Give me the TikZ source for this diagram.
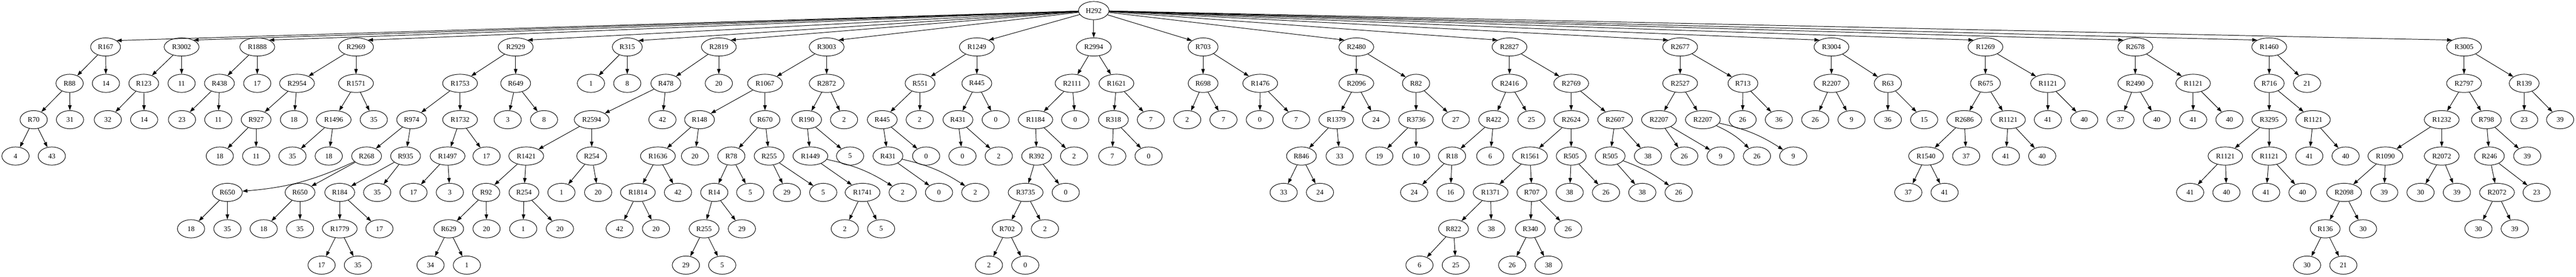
\documentclass[tikz,border=0pt]{standalone}
\usepackage{fontspec}
\setmainfont{Liberation Serif}
\usetikzlibrary{shapes.geometric,arrows.meta}
\tikzset{vtx/.style={draw,ellipse,inner xsep=5.75pt,inner ysep=3pt,
    minimum width=54pt,minimum height=36pt,font=\fontsize{14}{16}\selectfont},
  bent e1111/.style={bend left=10},
  bent h2112/.style={bend left=10},
  bent i1112/.style={bend left=10},
  bent m2212/.style={bend left=8},
  bent n121/.style={bend left=10},
  bent n122/.style={bend left=10}}

\begin{document}
\begin{tikzpicture}[x=0.75pt,y=-72pt,line width=1pt,>={Triangle[length=10pt,width=7pt]}]
\useasboundingbox (0,-0.2917) rectangle (6809,7.3229);
\foreach \nm/\px/\lv/\lab in {root/2891/0/H292,
    a/279/1/R167, a1/184/2/R88, a2/280/2/14, a11/89/3/R70, a12/185/3/31, a111/41/4/4, a112/137/4/43,
    b/480/1/R3002, b1/380/2/R123, b2/480/2/11, b11/285/3/32, b12/381/3/14,
    c/680/1/R1888, c1/580/2/R438, c2/680/2/17, c11/481/3/23, c12/577/3/11,
    d/941/1/R2969, d1/785/2/R2954, d2/941/2/R1571, d11/677/3/R927, d12/777/3/18, d111/581/4/18,
    d112/677/4/11, d21/882/3/R1496, d22/988/3/35, d211/773/4/35, d212/869/4/18,
    e/1363/1/R2929, e1/1216/2/R1753, e2/1363/2/R649, e11/1088/3/R974, e12/1216/3/R1732,
    e111/969/4/R268, e112/1072/4/R935, e1111/601/5/R650, e1112/793/5/R650, e11111/505/6/18,
    e11112/601/6/35, e11121/697/6/18, e11122/793/6/35, e1121/898/5/R184, e1122/997/5/35,
    e11211/898/6/R1779, e11212/1003/6/17, e112111/850/7/17, e112112/946/7/35,
    e121/1183/4/R1497, e122/1286/4/17, e1211/1093/5/17, e1212/1189/5/3, e21/1342/3/3, e22/1438/3/8,
    f/1658/1/R315, f1/1562/2/1, f2/1658/2/8,
    g/1900/1/R2819, g1/1760/2/R478, g2/1900/2/20, g11/1564/3/R2594, g12/1751/3/42,
    g111/1391/4/R1421, g112/1564/4/R254, g1111/1285/5/R92, g1112/1385/5/R254,
    g11111/1186/6/R629, g11112/1286/6/20, g111111/1138/7/34, g111112/1234/7/1,
    g11121/1383/6/1, g11122/1480/6/20, g1121/1484/5/1, g1122/1581/5/20,
    h/2185/1/R3003, h1/2022/2/R1067, h2/2185/2/R2872, h11/1849/3/R148, h12/2022/3/R670,
    h111/1739/4/R1636, h112/1837/4/20, h1111/1686/5/R1814, h1112/1792/5/42,
    h11111/1638/6/42, h11112/1734/6/20, h121/1933/4/R78, h122/2033/4/R255,
    h1211/1888/5/R14, h1212/1983/5/5, h12111/1861/6/R255, h12112/1961/6/29,
    h121111/1813/7/29, h121112/1909/7/5, h1221/2080/5/29, h1222/2176/5/5,
    h21/2132/3/R190, h22/2231/3/2, h211/2142/4/R1449, h212/2247/4/5,
    h2111/2280/5/R1741, h2112/2386/5/2, h21111/2233/6/2, h21112/2329/6/5,
    i/2582/1/R1249, i1/2432/2/R551, i2/2582/2/R445, i11/2332/3/R445, i12/2431/3/2,
    i111/2347/4/R431, i112/2448/4/0, i1111/2482/5/0, i1112/2578/5/2,
    i21/2532/3/R431, i22/2632/3/0, i211/2544/4/0, i212/2640/4/2,
    j/2891/1/R2994, j1/2834/2/R2111, j2/2951/2/R1621, j11/2737/3/R1184, j12/2842/3/0,
    j111/2740/4/R392, j112/2839/4/2, j1111/2711/5/R3735, j1112/2817/5/0,
    j11111/2662/6/R702, j11112/2762/6/2, j111111/2614/7/2, j111112/2710/7/0,
    j21/2943/3/R318, j22/3042/3/7, j211/2940/4/7, j212/3036/4/0,
    k/3180/1/R703, k1/3180/2/R698, k2/3331/2/R1476, k11/3138/3/2, k12/3234/3/7, k21/3330/3/0, k22/3426/3/7,
    l/3585/1/R2480, l1/3585/2/R2096, l2/3743/2/R82, l11/3532/3/R1379, l12/3637/3/24,
    l111/3440/4/R846, l112/3541/4/33, l1111/3393/5/33, l1112/3489/5/24,
    l21/3743/3/R3736, l22/3848/3/27, l211/3646/4/19, l212/3743/4/10,
    m/3990/1/R2827, m1/3990/2/R2416, m2/4153/2/R2769, m11/3948/3/R422, m12/4048/3/25,
    m111/3838/4/R18, m112/3939/4/6, m1111/3738/5/24, m1112/3834/5/16,
    m21/4153/3/R2624, m22/4269/3/R2607, m211/4044/4/R1561, m212/4153/4/R505,
    m2111/3940/5/R1371, m2112/4049/5/R707, m21111/3842/6/R822, m21112/3942/6/38,
    m211111/3752/7/6, m211112/3848/7/25, m21121/4045/6/R340, m21122/4145/6/26,
    m211211/3997/7/26, m211212/4093/7/38, m2121/4149/5/38, m2122/4245/5/26,
    m221/4256/4/R505, m222/4356/4/38, m2211/4341/5/38, m2212/4437/5/26,
    n/4441/1/R2677, n1/4441/2/R2527, n2/4607/2/R713, n11/4385/3/R2207, n12/4501/3/R2207,
    n111/4452/4/26, n112/4548/4/9, n121/4644/4/26, n122/4740/4/9, n21/4606/3/26, n22/4702/3/36,
    o/4841/1/R3004, o1/4841/2/R2207, o2/4990/2/R63, o11/4798/3/26, o12/4894/3/9, o21/4990/3/36, o22/5086/3/15,
    p/5248/1/R1269, p1/5248/2/R675, p2/5413/2/R1121, p11/5192/3/R2686, p12/5308/3/R1121,
    p111/5091/4/R1540, p112/5197/4/37, p1111/5044/5/37, p1112/5140/5/41,
    p121/5302/4/41, p122/5398/4/40, p21/5413/3/41, p22/5509/3/40,
    q/5644/1/R2678, q1/5644/2/R2490, q2/5797/2/R1121, q11/5605/3/37, q12/5701/3/40, q21/5797/3/41, q22/5893/3/40,
    r/5998/1/R1460, r1/5998/2/R716, r2/6098/2/21, r11/5998/3/R3295, r12/6114/3/R1121,
    r111/5882/4/R1121, r112/5998/4/R1121, r1111/5789/5/41, r1112/5885/5/40,
    r1121/5990/5/41, r1122/6086/5/40, r121/6104/4/41, r122/6200/4/40,
    s/6513/1/R3005, s1/6513/2/R2797, s2/6672/2/R139, s11/6454/3/R1232, s12/6572/3/R798,
    s111/6305/4/R1090, s112/6454/4/R2072, s1111/6196/5/R2098, s1112/6302/5/39,
    s11111/6146/6/R136, s11112/6246/6/30, s111111/6098/7/30, s111112/6194/7/21,
    s1121/6398/5/30, s1122/6494/5/39, s121/6580/4/R246, s122/6680/4/39,
    s1211/6600/5/R2072, s1212/6705/5/23, s12111/6551/6/30, s12112/6647/6/39,
    s21/6672/3/23, s22/6767/3/39}
  \node[vtx] (\nm) at (\px,\lv) {\lab};
\foreach \k in {a,...,i}
  \draw[->] (root) -- (\k.30);
\draw[->] (root) -- (j);
\foreach \k in {k,...,s}
  \draw[->] (root) -- (\k.150);
\foreach \p in {a,a1,a11,b,b1,c,c1,d,d1,d11,d2,d21,
    e,e1,e11,e111,e1111,e1112,e112,e1121,e11211,e12,e121,e2,f,
    g,g1,g11,g111,g1111,g11111,g1112,g112,
    h,h1,h11,h111,h1111,h12,h121,h1211,h12111,h122,h2,h21,h211,h2111,
    i,i1,i11,i111,i2,i21,j,j1,j11,j111,j1111,j11111,j2,j21,k,k1,k2,
    l,l1,l11,l111,l2,l21,m,m1,m11,m111,m2,m21,m211,m2111,m21111,m2112,m21121,m212,m22,m221,
    n,n1,n11,n12,n2,o,o1,o2,p,p1,p11,p111,p12,p2,q,q1,q2,
    r,r1,r11,r111,r112,r12,s,s1,s11,s111,s1111,s11111,s112,s12,s121,s1211,s2}
  \foreach \k in {1,2}
    \draw[->] (\p) to[bent \p\k/.try] (\p\k);
\end{tikzpicture}
\end{document}
